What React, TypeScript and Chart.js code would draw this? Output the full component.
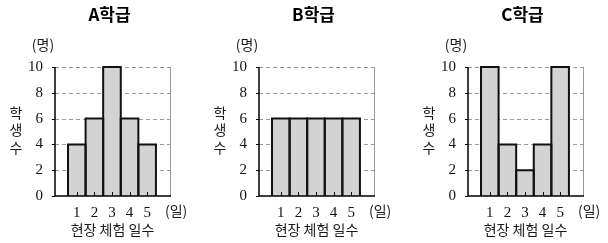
import React, { useEffect, useRef } from 'react';
import { Chart, registerables } from 'chart.js';

Chart.register(...registerables);

// ---- data ----
const days = [1, 2, 3, 4, 5];
const dayLabels = ['1', '2', '3', '4', '5'];
const classA = [4, 6, 10, 6, 4];
const classB = [6, 6, 6, 6, 6];
const classC = [10, 4, 2, 4, 10];
const classNames = ['A학급', 'B학급', 'C학급'];
const yTickValues = [0, 2, 4, 6, 8, 10];
const yUnit = '(명)';
const xUnit = '(일)';
const yTitle = ['학', '생', '수'];
const xTitle = '현장 체험 일수';

const SERIF = '"Liberation Serif", "Times New Roman", serif';
const SANS = '"Noto Sans CJK KR", "Noto Sans", sans-serif';

const CANVAS_W = 200;
const CANVAS_H = 243;
const panelLefts = [0, 204, 413];

const decor = {
  id: 'decor',
  beforeDatasetsDraw(chart: any) {
    const { ctx, chartArea: ca, scales } = chart;
    const y = scales.y;
    ctx.save();
    ctx.strokeStyle = '#9a9a9a';
    ctx.lineWidth = 1;
    ctx.setLineDash([4, 3]);
    for (const v of yTickValues) {
      if (v === 0) continue;
      const py = Math.round(y.getPixelForValue(v)) + 0.5;
      ctx.beginPath();
      ctx.moveTo(ca.left, py);
      ctx.lineTo(ca.right, py);
      ctx.stroke();
    }
    ctx.setLineDash([]);
    const rx = Math.round(ca.right) + 0.5;
    ctx.beginPath();
    ctx.moveTo(rx, Math.round(ca.top));
    ctx.lineTo(rx, ca.bottom);
    ctx.stroke();
    ctx.restore();
  },
  afterDatasetsDraw(chart: any, _args: any, opts: any) {
    const { ctx, chartArea: ca, scales } = chart;
    const x = scales.x;
    const y = scales.y;
    ctx.save();
    // bar outlines
    const meta = chart.getDatasetMeta(0);
    ctx.strokeStyle = '#111';
    ctx.lineWidth = 2;
    meta.data.forEach((el: any) => {
      const l = el.x - el.width / 2;
      const r = el.x + el.width / 2;
      ctx.beginPath();
      ctx.moveTo(l, el.base);
      ctx.lineTo(l, el.y);
      ctx.lineTo(r, el.y);
      ctx.lineTo(r, el.base);
      ctx.stroke();
    });
    // axes
    ctx.strokeStyle = '#000';
    ctx.lineWidth = 1.5;
    ctx.beginPath();
    ctx.moveTo(ca.left, ca.top);
    ctx.lineTo(ca.left, ca.bottom);
    ctx.lineTo(ca.right + 1, ca.bottom);
    ctx.stroke();
    // y ticks (outward)
    ctx.lineWidth = 1;
    for (const v of yTickValues) {
      const py = Math.round(y.getPixelForValue(v)) + 0.5;
      ctx.beginPath();
      ctx.moveTo(ca.left - 3, py);
      ctx.lineTo(ca.left, py);
      ctx.stroke();
    }
    // x ticks (inward)
    for (const d of days) {
      const px = Math.round(x.getPixelForValue(d)) + 0.5;
      ctx.beginPath();
      ctx.moveTo(px, ca.bottom);
      ctx.lineTo(px, ca.bottom - 4);
      ctx.stroke();
    }
    // texts
    const cx = (ca.left + ca.right) / 2;
    ctx.fillStyle = '#000';
    ctx.textBaseline = 'middle';
    ctx.textAlign = 'center';
    ctx.font = `bold 17px ${SANS}`;
    ctx.fillText(opts.title, cx - 3, 15);
    ctx.fillStyle = '#1a1a1a';
    ctx.font = `14px ${SANS}`;
    ctx.fillText(yUnit, ca.left - 12, 45);
    const ys = [113, 130, 148];
    yTitle.forEach((ch, i) => ctx.fillText(ch, ca.left - 39, ys[i]));
    ctx.fillText(xTitle, cx, 230);
    ctx.textAlign = 'left';
    ctx.fillText(xUnit, ca.right - 5, 211);
    ctx.restore();
  },
};

function Histogram({ values, title, left }: { values: number[]; title: string; left: number }) {
  const ref = useRef<HTMLCanvasElement | null>(null);
  useEffect(() => {
    if (!ref.current) return;
    const chart = new Chart(ref.current, {
      type: 'bar',
      data: {
        datasets: [
          {
            data: days.map((d, i) => ({ x: d, y: values[i] })),
            backgroundColor: '#d3d3d3',
            borderWidth: 0,
            barPercentage: 1,
            categoryPercentage: 1,
          },
        ],
      },
      options: {
        responsive: false,
        animation: false,
        devicePixelRatio: 1,
        layout: { padding: { top: 67, left: 0, right: 30, bottom: 0 } },
        plugins: {
          legend: { display: false },
          tooltip: { enabled: false },
          title: { display: false },
          decor: { title },
        } as any,
        scales: {
          x: {
            type: 'linear',
            min: -0.24,
            max: 6.3,
            offset: false,
            grid: { display: false },
            border: { display: false },
            afterBuildTicks: (s: any) => {
              s.ticks = days.map((d) => ({ value: d }));
            },
            afterFit: (s: any) => {
              s.height = 47;
            },
            ticks: {
              autoSkip: false,
              maxRotation: 0,
              padding: 0,
              color: '#111',
              font: { family: SERIF, size: 15 },
              callback: (v: any) => dayLabels[days.indexOf(Number(v))] ?? '',
            },
          },
          y: {
            min: 0,
            max: 10,
            grid: { display: false },
            border: { display: false },
            afterBuildTicks: (s: any) => {
              s.ticks = yTickValues.map((v) => ({ value: v }));
            },
            afterFit: (s: any) => {
              s.width = 55;
            },
            ticks: {
              padding: 4,
              color: '#111',
              font: { family: SERIF, size: 15 },
            },
          },
        },
      } as any,
      plugins: [decor],
    });
    return () => chart.destroy();
  }, [values, title]);
  return (
    <canvas
      ref={ref}
      width={CANVAS_W}
      height={CANVAS_H}
      style={{ position: 'absolute', left, top: 0, width: CANVAS_W, height: CANVAS_H }}
    />
  );
}

export default function App() {
  const series = [classA, classB, classC];
  return (
    <div style={{ position: 'fixed', left: 0, top: 0, width: 608, height: 243, background: '#fff' }}>
      {series.map((vals, i) => (
        <Histogram key={i} values={vals} title={classNames[i]} left={panelLefts[i]} />
      ))}
    </div>
  );
}
